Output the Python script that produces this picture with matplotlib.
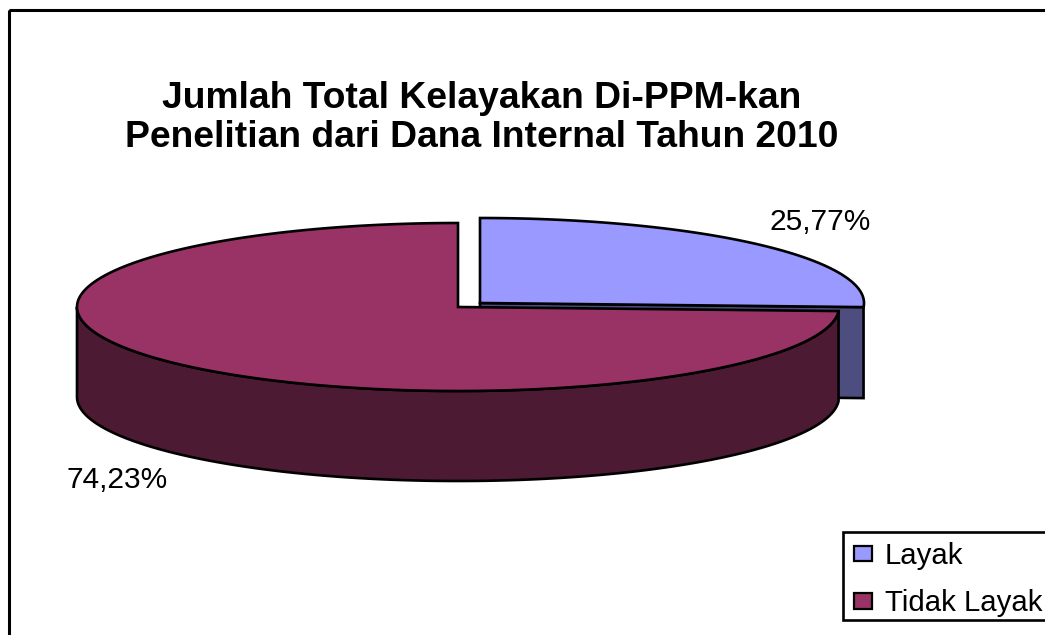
import numpy as np
import matplotlib
matplotlib.use("Agg")
import matplotlib.pyplot as plt
from matplotlib.patches import Polygon, Patch, Rectangle

categories = ["Layak", "Tidak Layak"]
values = [25.77, 74.23]
labels = ["25,77%", "74,23%"]
title = "Jumlah Total Kelayakan Di-PPM-kan\nPenelitian dari Dana Internal Tahun 2010"

top_colors = ["#9999FF", "#993366"]
side_colors = ["#4D4D80", "#4D1A33"]

plt.rcParams["font.family"] = ["Liberation Sans", "DejaVu Sans"]


# points on the pie rim, angles in degrees counted the usual way
def rim(cx, cy, rx, ry, a0, a1, n=200):
    t = np.radians(np.linspace(a0, a1, n))
    return np.column_stack([cx + rx * np.cos(t), cy - ry * np.sin(t)])


fig = plt.figure(figsize=(10.45, 6.35), dpi=100)
ax = fig.add_axes([0, 0, 1, 1])
ax.set_xlim(0, 1045)
ax.set_ylim(635, 0)
ax.axis("off")

lw = 1.9
depth = 91

# chart border, runs off the right and bottom of the picture
ax.add_patch(Rectangle((9, 10), 1100, 700, fill=False, ec="black", lw=2.2))

# slices go clockwise from twelve o'clock
sweep = [v / sum(values) * 360 for v in values]

# Layak, pulled out to the right
cx, cy, rx, ry = 480, 303, 384, 85
a0, a1 = 90, 90 - sweep[0]
arc = rim(cx, cy, rx, ry, a0, a1)
tip = arc[-1]
face = [(cx, cy), tuple(tip), (tip[0], tip[1] + depth), (cx, cy + depth)]
ax.add_patch(Polygon(face, fc=side_colors[0], ec="black", lw=lw, joinstyle="miter"))
ax.add_patch(Polygon(np.vstack([[cx, cy], arc]), fc=top_colors[0], ec="black", lw=lw))

# Tidak Layak
cx, cy, rx, ry = 458, 307, 381, 84
a0, a1 = 90, 90 + sweep[1]
lower = rim(cx, cy, rx, ry, 180, a1)
side = np.vstack([lower, (lower + [0, depth - 1])[::-1]])
ax.add_patch(Polygon(side, fc=side_colors[1], ec="black", lw=lw))
arc = rim(cx, cy, rx, ry, a0, a1, 400)
ax.add_patch(Polygon(np.vstack([[cx, cy], arc]), fc=top_colors[1], ec="black", lw=lw))

ax.text(820, 222, labels[0], fontsize=21.5, ha="center", va="center")
ax.text(117, 480, labels[1], fontsize=21.5, ha="center", va="center")

ax.text(482, 118, title, fontsize=26.8, fontweight="bold", ha="center", va="center",
        linespacing=1.13)

# legend box runs off the right side as well
ax.add_patch(Rectangle((843, 532), 300, 88, fc="white", ec="black", lw=1.9, zorder=3))
handles = [Patch(fc=c, ec="black", lw=1.6) for c in top_colors]
leg = ax.legend(handles, categories, loc="upper left",
                bbox_to_anchor=(854, 542), bbox_transform=ax.transData,
                fontsize=21.2, frameon=False, borderaxespad=0, borderpad=0,
                handlelength=0.62, handleheight=0.45, handletextpad=0.42,
                labelspacing=0.66)
leg.set_zorder(4)

fig.savefig("out.png", dpi=100)
